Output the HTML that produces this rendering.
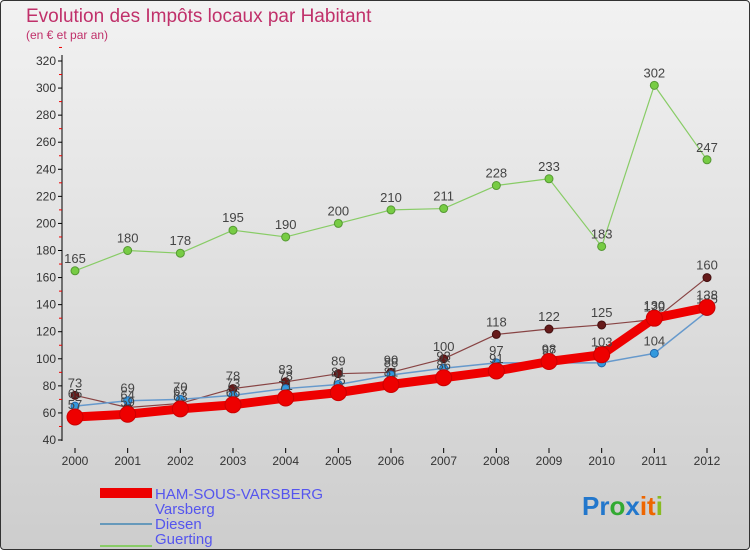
<!DOCTYPE html>
<html><head><meta charset="utf-8"><style>
body{margin:0;width:750px;height:550px;overflow:hidden;font-family:"Liberation Sans",sans-serif}
#wrap{position:absolute;left:0;top:0;width:748px;height:548px;border:1px solid #333;border-radius:4px;background:linear-gradient(#f2f2f2,#cdcdcd)}
</style></head><body>
<div id="wrap">
<svg id="chart" width="750" height="550" style="position:absolute;left:-1px;top:-1px">
<text x="26" y="22" font-size="19" fill="#c0306a">Evolution des Impôts locaux par Habitant</text>
<text x="26" y="39" font-size="12" fill="#c0306a">(en € et par an)</text>
<g id="axes"></g><g id="series"></g>
<g>
<rect x="100" y="488" width="52" height="10" fill="#ee0000"/>
<text x="155" y="499" font-size="15" fill="#5555ee">HAM-SOUS-VARSBERG</text>
<line x1="100" y1="524" x2="152" y2="524" stroke="#6699bb" stroke-width="2"/>
<text x="155" y="514" font-size="15" fill="#5555ee">Varsberg</text>
<line x1="100" y1="546" x2="152" y2="546" stroke="#88cc66" stroke-width="2"/>
<text x="155" y="529" font-size="15" fill="#5555ee">Diesen</text>
<text x="155" y="544" font-size="15" fill="#5555ee">Guerting</text>
</g>
<text x="582" y="515" font-size="26" font-weight="bold"><tspan fill="#2277cc">Pr</tspan><tspan fill="#33aa33">o</tspan><tspan fill="#2277cc">x</tspan><tspan fill="#ee6600">it</tspan><tspan fill="#88bb22">i</tspan></text>
</svg></div>
<script>
const years=[2000,2001,2002,2003,2004,2005,2006,2007,2008,2009,2010,2011,2012];
const yTicks=[40,60,80,100,120,140,160,180,200,220,240,260,280,300,320];
const ham=[57,59,63,66,71,75,81,86,91,98,103,130,138];
const varsberg=[65,69,70,73,78,81,88,93,97,97,97,104,135];
const diesen=[165,180,178,195,190,200,210,211,228,233,183,302,247];
const guerting=[73,64,67,78,83,89,90,100,118,122,125,129,160];
const NS="http://www.w3.org/2000/svg";
const X=i=>75+i*(707-75)/(years.length-1);
const Y=v=>440-(v-40)*(440-61)/280;
function mk(tag,at,parent){const e=document.createElementNS(NS,tag);for(const k in at)e.setAttribute(k,at[k]);parent.appendChild(e);return e;}
const ax=document.getElementById('axes');
let a=mk('line',{x1:62,y1:55,x2:62,y2:441,stroke:'#000'},ax);


yTicks.forEach(v=>{
 let t=mk('line',{x1:58,y1:Y(v),x2:62,y2:Y(v),stroke:'#000'},ax);
 
 
 let m=mk('line',{x1:59,y1:Y(v+10),x2:62,y2:Y(v+10),stroke:'#e00'},ax);
 
 
 let l=mk('text',{x:56,y:Y(v)+4,'font-size':12,'text-anchor':'end',fill:'#333'},ax);l.textContent=v;
 
 
});
years.forEach((y,i)=>{
 let t=mk('line',{x1:X(i),y1:448,x2:X(i),y2:453,stroke:'#000'},ax);
 
 
 let l=mk('text',{x:X(i),y:465,'font-size':12,'text-anchor':'middle',fill:'#333'},ax);l.textContent=y;
 
 
});
const sg=document.getElementById('series');
function series(name,vals,color,w,r,dot,stroke){
 const g=mk('g',{},sg);
 
 
 let p=mk('polyline',{points:vals.map((v,i)=>X(i)+','+Y(v)).join(' '),fill:'none',stroke:color,'stroke-width':w,'stroke-linejoin':'round'},g);
 
 
 vals.forEach((v,i)=>{
  let c=mk('circle',{cx:X(i),cy:Y(v),r:r,fill:dot,stroke:stroke,'stroke-width':1},g);
  
  
  let l=mk('text',{x:X(i),y:Y(v)-8,'font-size':13,'text-anchor':'middle',fill:'#444'},g);l.textContent=v;
  
  
 });
}
series('diesen',diesen,'#88cc66',1.2,4,'#77cc44','#559933');
series('guerting',guerting,'#884444',1.2,4,'#661a1a','#441111');
series('varsberg',varsberg,'#6699cc',1.5,4,'#3399dd','#2266aa');
series('ham',ham,'#ee0000',9,8,'#ee0000','#cc0000');
</script>
</body></html>
